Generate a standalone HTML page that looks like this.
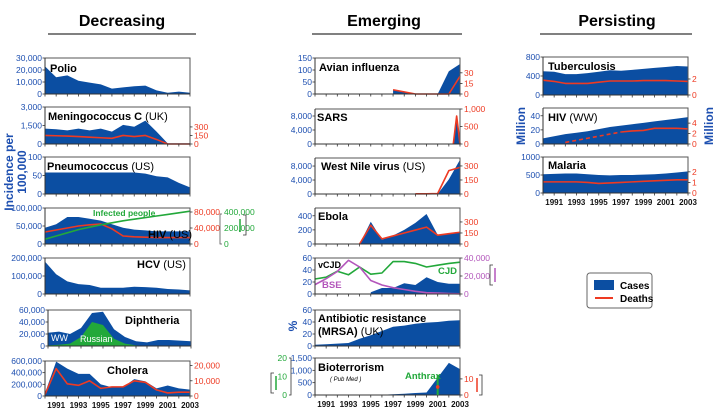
<!DOCTYPE html>
<html><head><meta charset="utf-8"><style>
body{margin:0;background:#fff;}
svg{display:block;font-family:"Liberation Sans",Arial,sans-serif;}
</style></head><body>
<svg id="c" width="725" height="420" viewBox="0 0 725 420" xmlns="http://www.w3.org/2000/svg"></svg>
<script>
const years = [1990,1991,1992,1993,1994,1995,1996,1997,1998,1999,2000,2001,2002,2003];
const yearLabels = ["1991","1993","1995","1997","1999","2001","2003"];
// Decreasing
const polioCases = [23000,14000,15500,11000,9500,8000,4500,5500,6500,7000,3000,1000,2000,1000];
const meningoCases = [1250,1200,1100,1250,1100,1250,1000,1550,1400,1900,1000,50,50,50];
const meningoDeaths = [150,145,140,130,120,110,100,150,130,150,80,0,0,0];
const pneumoCases = [58,58,58,58,58,58,58,58,58,55,48,45,30,18];
const hivUsCases = [45000,55000,75000,75000,70000,65000,55000,45000,40000,38000,35000,35000,35000,35000];
const hivUsDeaths = [30000,35000,40000,45000,48000,50000,38000,20000,18000,17000,16000,16000,16000,16000];
const hivUsInfected = [60000,100000,140000,180000,210000,240000,265000,290000,310000,330000,350000,370000,390000,410000];
const hcvCases = [180000,110000,70000,55000,50000,35000,35000,35000,40000,38000,35000,28000,25000,20000];
const diphWW = [22000,24000,20000,30000,55000,57000,28000,15000,8000,6000,10000,10000,9000,8000];
const diphRussian = [1000,2000,4000,15000,40000,35000,12000,4000,1000,500,200,200,200,200];
const choleraCases = [50000,590000,470000,380000,380000,200000,150000,150000,290000,250000,130000,180000,130000,110000];
const choleraDeaths = [1000,18000,8000,7000,10000,5000,6000,6000,10000,9000,4000,2000,2500,2500];
// Emerging
const avianYears = [1997,1998,1999,2000,2001,2002,2003];
const avianCases = [18,10,0,0,0,95,125];
const avianDeaths = [6,3,0,0,0,0,25];
const sarsYears = [2002.4,2002.7,2003];
const sarsCases = [0,8000,0];
const sarsDeaths = [0,800,0];
const wnvYears = [1999,2000,2001,2002,2003];
const wnvCases = [0,0,0,4200,9800];
const wnvDeaths = [2,2,5,250,285];
const ebolaYears = [1994,1995,1996,1997,1998,1999,2000,2001,2002,2003];
const ebolaCases = [0,315,60,120,200,300,425,130,150,170];
const ebolaDeaths = [0,255,70,110,150,190,230,120,140,160];
const vcjdYears = [1995,1996,1997,1998,1999,2000,2001,2002,2003];
const vcjdCases = [3,10,10,18,15,28,20,17,17];
const cjdCases = [25,28,38,32,45,33,35,54,54,51,45,48,51,53];
const bseCases = [10400,17000,25000,37400,30000,15000,10000,7000,5000,3000,1500,1000,500,200];
const mrsaPct = [2,3,4,5,12,18,25,32,34,37,39,40,42,43];
const bioCases = [0,0,0,0,0,0,10,30,50,80,100,700,1300,1050];
const anthraxYear = [2001];
const anthraxCases = [11];
const anthraxDeaths = [5];
// Persisting
const tbCases = [500,490,440,440,460,490,520,510,530,550,570,590,610,600];
const tbDeaths = [1.85,1.7,1.45,1.45,1.45,1.6,1.75,1.75,1.75,1.8,1.8,1.8,1.75,1.7];
const hivWwCases = [8,11,14,16,18,21,24,26,28,30,32,34,36,38];
const hivWwDeathYearsDashed = [1992,1993,1994,1995,1996,1997];
const hivWwDeathsDashed = [0.3,0.7,1.1,1.5,1.9,2.3];
const hivWwDeathYears = [1997,1998,1999,2000,2001,2002,2003];
const hivWwDeaths = [2.3,2.5,2.6,3.0,3.0,3.0,2.9];
const malariaCases = [520,530,540,540,520,500,490,500,500,510,520,540,570,600];
const malariaDeaths = [1.05,1.05,1.05,1.05,1.0,0.9,0.95,1.0,1.05,1.1,1.15,1.2,1.25,1.25];

const BLUE="#0b4ea2", RED="#ee3a22", GREEN="#22a83a", PURPLE="#b356bb", TBLUE="#1d4fb0";
const svg=document.getElementById('c');
const NS="http://www.w3.org/2000/svg";
function mk(tag,attrs,name,parent){
  const el=document.createElementNS(NS,tag);
  for(const k in attrs) el.setAttribute(k,attrs[k]);
  
  
  (parent||svg).appendChild(el);
  return el;
}
function txt(x,y,s,size,fill,weight,anchor,name,extra){
  const a={x:x,y:y,'font-size':size,fill:fill,'font-weight':weight||'normal','text-anchor':anchor||'start'};
  if(extra) for(const k in extra) a[k]=extra[k];
  const t=mk('text',a,name);
  t.textContent=s;
  return t;
}
function panel(p){
  const xs=yr=>p.x+(yr-1990)*p.w/13;
  const ysL=v=>p.y+p.h-v/p.lmax*p.h;
  const g=mk('g',{},p.name);
  mk('rect',{x:p.x,y:p.y,width:p.w,height:p.h,fill:'#fff',stroke:'none'},'plot-area',g);
  (p.series||[]).forEach(s=>{
    const ys=v=>p.y+p.h-v/s.max*p.h;
    const yrs=s.years||years;
    if(s.type==='area'){
      let d='M'+xs(yrs[0])+','+(p.y+p.h);
      yrs.forEach((yr,i)=>{d+=' L'+xs(yr)+','+ys(s.values[i]);});
      d+=' L'+xs(yrs[yrs.length-1])+','+(p.y+p.h)+' Z';
      mk('path',{d:d,fill:s.color},s.name,g);
    } else {
      const pts=yrs.map((yr,i)=>xs(yr)+','+ys(s.values[i])).join(' ');
      const a={points:pts,fill:'none',stroke:s.color,'stroke-width':s.sw||1.6,'stroke-linejoin':'round'};
      if(s.dash) a['stroke-dasharray']=s.dash;
      mk('polyline',a,s.name,g);
    }
  });
  // frame
  mk('path',{d:`M${p.x},${p.y} H${p.x+p.w} V${p.y+p.h}`,fill:'none',stroke:'#555','stroke-width':1},'frame',g);
  mk('line',{x1:p.x,y1:p.y,x2:p.x,y2:p.y+p.h,stroke:'#333','stroke-width':1},'y-axis',g);
  mk('line',{x1:p.x,y1:p.y+p.h,x2:p.x+p.w,y2:p.y+p.h,stroke:'#333','stroke-width':1},'x-axis',g);
  years.forEach(yr=>{mk('line',{x1:xs(yr),y1:p.y+p.h,x2:xs(yr),y2:p.y+p.h+2.5,stroke:'#333','stroke-width':0.8},'x-tick',g);});
  p.lticks.forEach((t,i)=>{
    const y=ysL(t);
    mk('line',{x1:p.x-2.5,y1:y,x2:p.x,y2:y,stroke:'#333','stroke-width':0.8},'y-tick',g);
    txt(p.x-3,y+3,p.ltickLabels[i],8.5,TBLUE,'normal','end','y-tick-label');
  });
  if(p.rticks){
    p.rticks.forEach((t,i)=>{
      const y=p.y+p.h-t/p.rmax*p.h;
      mk('line',{x1:p.x+p.w,y1:y,x2:p.x+p.w+2.5,y2:y,stroke:'#333','stroke-width':0.8},'y2-tick',g);
      txt(p.x+p.w+4,y+3,p.rtickLabels[i],8.5,p.rcolor||RED,'normal','start','y2-tick-label');
    });
  }
  if(p.xlabels){
    yearLabels.forEach(l=>txt(xs(+l),p.y+p.h+12,l,8,'#111','bold','middle','x-tick-label'));
  }
  return {xs:xs};
}
function title(x,y,b,n,size,name){
  const t=mk('text',{x:x,y:y,'font-size':size||11,fill:'#000','font-weight':'bold'},name);
  t.textContent=b;
  if(n){const s=document.createElementNS(NS,'tspan');s.setAttribute('font-weight','normal');s.textContent=n;t.appendChild(s);}
}
// headers
[["Decreasing",122,48,196],["Emerging",384,312,462],["Persisting",617,540,692]].forEach(h=>{
  txt(h[1],26,h[0],16,'#000','bold','middle','column-header');
  mk('line',{x1:h[2],y1:34,x2:h[3],y2:34,stroke:'#000','stroke-width':1},'header-underline');
});
// Left column
const LX=45,LW=145;
panel({name:'polio-panel',x:LX,y:58,w:LW,h:36,lmax:30000,lticks:[0,10000,20000,30000],ltickLabels:["0","10,000","20,000","30,000"],
  series:[{type:'area',values:polioCases,max:30000,color:BLUE,name:'polio-cases-area'}]});
title(50,72,"Polio","",11,'polio-title');
panel({name:'meningococcus-panel',x:LX,y:107,w:LW,h:37,lmax:3000,lticks:[0,1500,3000],ltickLabels:["0","1,500","3,000"],
  rmax:650,rticks:[0,150,300],rtickLabels:["0","150","300"],
  series:[{type:'area',values:meningoCases,max:3000,color:BLUE,name:'meningococcus-cases-area'},{type:'line',values:meningoDeaths,max:650,color:RED,name:'meningococcus-deaths-line'}]});
title(48,120,"Meningococcus C"," (UK)",11,'meningococcus-title');
panel({name:'pneumococcus-panel',x:LX,y:157,w:LW,h:37,lmax:100,lticks:[0,50,100],ltickLabels:["0","50","100"],
  series:[{type:'area',values:pneumoCases,max:100,color:BLUE,name:'pneumococcus-cases-area'}]});
title(47,170,"Pneumococcus"," (US)",11,'pneumococcus-title');
panel({name:'hiv-us-panel',x:LX,y:208,w:LW,h:36,lmax:100000,lticks:[0,50000,100000],ltickLabels:["0","50,000","100,000"],
  rmax:90000,rticks:[0,40000,80000],rtickLabels:["0","40,000","80,000"],
  series:[{type:'area',values:hivUsCases,max:100000,color:BLUE,name:'hiv-us-cases-area'},{type:'line',values:hivUsDeaths,max:90000,color:RED,name:'hiv-us-deaths-line'},{type:'line',values:hivUsInfected,max:450000,color:GREEN,name:'hiv-us-infected-line'}]});
title(148,238,"HIV"," (US)",11,'hiv-us-title');
txt(93,216,"Infected people",8.5,GREEN,'bold','start','infected-people-label');
[[0,"0"],[200000,"200,000"],[400000,"400,000"]].forEach(t=>txt(224,244-t[0]/450000*36+3,t[1],8.5,GREEN,'normal','start','green-axis-label'));
mk('path',{d:'M222,214 H220 V244 H222',fill:'none',stroke:'#555','stroke-width':0.8},'green-axis-bracket');
mk('path',{d:'M243,215 h3 v20 h-3',fill:'none',stroke:'#333','stroke-width':0.8},'green-legend-bracket');
mk('line',{x1:240,y1:219,x2:240,y2:232,stroke:GREEN,'stroke-width':1.5},'green-legend-line');
panel({name:'hcv-panel',x:LX,y:258,w:LW,h:36,lmax:200000,lticks:[0,100000,200000],ltickLabels:["0","100,000","200,000"],
  series:[{type:'area',values:hcvCases,max:200000,color:BLUE,name:'hcv-cases-area'}]});
title(137,268,"HCV"," (US)",11,'hcv-title');
panel({name:'diphtheria-panel',x:48,y:310,w:143,h:36,lmax:60000,lticks:[0,20000,40000,60000],ltickLabels:["0","20,000","40,000","60,000"],
  series:[{type:'area',values:diphWW,max:60000,color:BLUE,name:'diphtheria-ww-area'},{type:'area',values:diphRussian,max:60000,color:GREEN,name:'diphtheria-russian-area'}]});
title(125,324,"Diphtheria","",11,'diphtheria-title');
txt(51,341,"WW",9,'#fff','normal','start','ww-label');
txt(80,342,"Russian",9,'#fff','normal','start','russian-label');
panel({name:'cholera-panel',x:LX,y:361,w:LW,h:35,lmax:600000,lticks:[0,200000,400000,600000],ltickLabels:["0","200,000","400,000","600,000"],
  rmax:23000,rticks:[0,10000,20000],rtickLabels:["0","10,000","20,000"],xlabels:true,
  series:[{type:'area',values:choleraCases,max:600000,color:BLUE,name:'cholera-cases-area'},{type:'line',values:choleraDeaths,max:23000,color:RED,name:'cholera-deaths-line'}]});
title(107,374,"Cholera","",11,'cholera-title');
txt(0,0,"Incidence per",12,TBLUE,'bold','middle','y-axis-title',{transform:'translate(13,172) rotate(-90)'});
txt(0,0,"100,000",12,TBLUE,'bold','middle','y-axis-title-2',{transform:'translate(26,172) rotate(-90)'});
// Middle column
const MX=315,MW=145;
panel({name:'avian-panel',x:MX,y:58,w:MW,h:36,lmax:150,lticks:[0,50,100,150],ltickLabels:["0","50","100","150"],
  rmax:51,rticks:[0,15,30],rtickLabels:["0","15","30"],
  series:[{type:'area',years:avianYears,values:avianCases,max:150,color:BLUE,name:'avian-cases-area'},{type:'line',years:avianYears,values:avianDeaths,max:51,color:RED,name:'avian-deaths-line'}]});
title(319,71,"Avian influenza","",11,'avian-title');
panel({name:'sars-panel',x:MX,y:109,w:MW,h:35,lmax:10000,lticks:[0,4000,8000],ltickLabels:["0","4,000","8,000"],
  rmax:1000,rticks:[0,500,1000],rtickLabels:["0","500","1,000"],
  series:[{type:'area',years:sarsYears,values:sarsCases,max:10000,color:BLUE,name:'sars-cases-area'},{type:'line',years:sarsYears,values:sarsDeaths,max:1000,color:RED,name:'sars-deaths-line'}]});
title(317,121,"SARS","",11,'sars-title');
panel({name:'west-nile-panel',x:MX,y:158,w:MW,h:36,lmax:10300,lticks:[0,4000,8000],ltickLabels:["0","4,000","8,000"],
  rmax:385,rticks:[0,150,300],rtickLabels:["0","150","300"],
  series:[{type:'area',years:wnvYears,values:wnvCases,max:10300,color:BLUE,name:'wnv-cases-area'},{type:'line',years:wnvYears,values:wnvDeaths,max:385,color:RED,name:'wnv-deaths-line'}]});
title(321,170,"West Nile virus"," (US)",11,'west-nile-title');
panel({name:'ebola-panel',x:MX,y:208,w:MW,h:36,lmax:510,lticks:[0,200,400],ltickLabels:["0","200","400"],
  rmax:490,rticks:[0,150,300],rtickLabels:["0","150","300"],
  series:[{type:'area',years:ebolaYears,values:ebolaCases,max:510,color:BLUE,name:'ebola-cases-area'},{type:'line',years:ebolaYears,values:ebolaDeaths,max:490,color:RED,name:'ebola-deaths-line'}]});
title(318,220,"Ebola","",11,'ebola-title');
panel({name:'cjd-panel',x:MX,y:258,w:MW,h:36,lmax:60,lticks:[0,20,40,60],ltickLabels:["0","20","40","60"],
  rmax:40000,rticks:[0,20000,40000],rtickLabels:["0","20,000","40,000"],rcolor:PURPLE,
  series:[{type:'area',years:vcjdYears,values:vcjdCases,max:60,color:BLUE,name:'vcjd-cases-area'},{type:'line',values:cjdCases,max:60,color:GREEN,name:'cjd-line'},{type:'line',values:bseCases,max:40000,color:PURPLE,name:'bse-line'}]});
txt(318,268,"vCJD",9,'#000','bold','start','vcjd-label');
txt(438,274,"CJD",9.5,GREEN,'bold','start','cjd-label');
txt(322,288,"BSE",9.5,PURPLE,'bold','start','bse-label');
mk('path',{d:'M493,265 h-3 v20 h3',fill:'none',stroke:'#333','stroke-width':0.8},'purple-bracket');
mk('line',{x1:495,y1:268,x2:495,y2:282,stroke:PURPLE,'stroke-width':1.5},'purple-legend-line');
panel({name:'mrsa-panel',x:MX,y:310,w:MW,h:36,lmax:60,lticks:[0,20,40,60],ltickLabels:["0","20","40","60"],
  series:[{type:'area',values:mrsaPct,max:60,color:BLUE,name:'mrsa-area'}]});
title(318,322,"Antibiotic resistance","",11,'mrsa-title');
title(318,335,"(MRSA)"," (UK)",11,'mrsa-title-2');
txt(0,0,"%",12,TBLUE,'bold','middle','percent-axis-title',{transform:'translate(297,326) rotate(-90)'});
const bio=panel({name:'bioterrorism-panel',x:MX,y:358,w:MW,h:37,lmax:1500,lticks:[0,500,1000,1500],ltickLabels:["0","500","1,000","1,500"],
  rmax:23,rticks:[0,10],rtickLabels:["0","10"],xlabels:true,
  series:[{type:'area',values:bioCases,max:1500,color:BLUE,name:'bioterrorism-area'}]});
title(318,371,"Bioterrorism","",11,'bioterrorism-title');
txt(330,381,"( Pub Med )",6,'#000','normal','start','pubmed-label',{'font-style':'italic'});
txt(405,379,"Anthrax",9.5,GREEN,'bold','start','anthrax-label');
anthraxYear.forEach((yr,i)=>{
  mk('line',{x1:bio.xs(yr),y1:395,x2:bio.xs(yr),y2:395-anthraxCases[i]/20*37,stroke:GREEN,'stroke-width':2},'anthrax-cases-bar');
  mk('circle',{cx:bio.xs(yr),cy:395-anthraxDeaths[i]/23*37,r:1.8,fill:RED},'anthrax-deaths-dot');
});
mk('path',{d:'M289,358 h2 v37 h-2',fill:'none',stroke:'#333','stroke-width':0.8},'green-axis-line');
[[0,"0"],[10,"10"],[20,"20"]].forEach(t=>txt(287,395-t[0]/20*37+3,t[1],8.5,GREEN,'normal','end','green-axis-label'));
mk('path',{d:'M274,373 h-3 v20 h3',fill:'none',stroke:'#333','stroke-width':0.8},'green-bracket');
mk('line',{x1:276,y1:376,x2:276,y2:390,stroke:GREEN,'stroke-width':1.5},'green-bracket-line');
mk('path',{d:'M479,375 h3 v20 h-3',fill:'none',stroke:'#333','stroke-width':0.8},'red-bracket');
mk('line',{x1:477,y1:378,x2:477,y2:392,stroke:RED,'stroke-width':1.5},'red-bracket-line');
// Right column
const RX=543,RW=145;
panel({name:'tuberculosis-panel',x:RX,y:57,w:RW,h:38,lmax:800,lticks:[0,400,800],ltickLabels:["0","400","800"],
  rmax:4.75,rticks:[0,2],rtickLabels:["0","2"],
  series:[{type:'area',values:tbCases,max:800,color:BLUE,name:'tb-cases-area'},{type:'line',values:tbDeaths,max:4.75,color:RED,name:'tb-deaths-line'}]});
title(548,70,"Tuberculosis","",11,'tuberculosis-title');
panel({name:'hiv-ww-panel',x:RX,y:108,w:RW,h:36,lmax:51,lticks:[0,20,40],ltickLabels:["0","20","40"],
  rmax:6.9,rticks:[0,2,4],rtickLabels:["0","2","4"],
  series:[{type:'area',values:hivWwCases,max:51,color:BLUE,name:'hiv-ww-cases-area'},{type:'line',years:hivWwDeathYearsDashed,values:hivWwDeathsDashed,max:6.9,color:RED,dash:'4,3',name:'hiv-ww-deaths-dashed'},{type:'line',years:hivWwDeathYears,values:hivWwDeaths,max:6.9,color:RED,name:'hiv-ww-deaths-line'}]});
title(548,121,"HIV"," (WW)",11,'hiv-ww-title');
txt(0,0,"Million",12,TBLUE,'bold','middle','million-left-title',{transform:'translate(525,126) rotate(-90)'});
txt(0,0,"Million",12,TBLUE,'bold','middle','million-right-title',{transform:'translate(713,126) rotate(-90)'});
panel({name:'malaria-panel',x:RX,y:157,w:RW,h:36,lmax:1000,lticks:[0,500,1000],ltickLabels:["0","500","1000"],
  rmax:3.4,rticks:[0,1,2],rtickLabels:["0","1","2"],xlabels:true,
  series:[{type:'area',values:malariaCases,max:1000,color:BLUE,name:'malaria-cases-area'},{type:'line',values:malariaDeaths,max:3.4,color:RED,name:'malaria-deaths-line'}]});
title(548,169,"Malaria","",11,'malaria-title');
// legend
const lg=mk('g',{},'legend');
mk('rect',{x:587,y:273,width:65,height:35,rx:3,fill:'#fff',stroke:'#666','stroke-width':1},'legend-box',lg);
mk('rect',{x:594,y:280,width:20,height:10,fill:BLUE},'legend-cases-swatch',lg);
txt(620,289,"Cases",10,'#000','bold','start','legend-cases-label');
mk('line',{x1:595,y1:298,x2:613,y2:298,stroke:RED,'stroke-width':2},'legend-deaths-swatch',lg);
txt(620,302,"Deaths",10,'#000','bold','start','legend-deaths-label');
</script>
</body></html>
